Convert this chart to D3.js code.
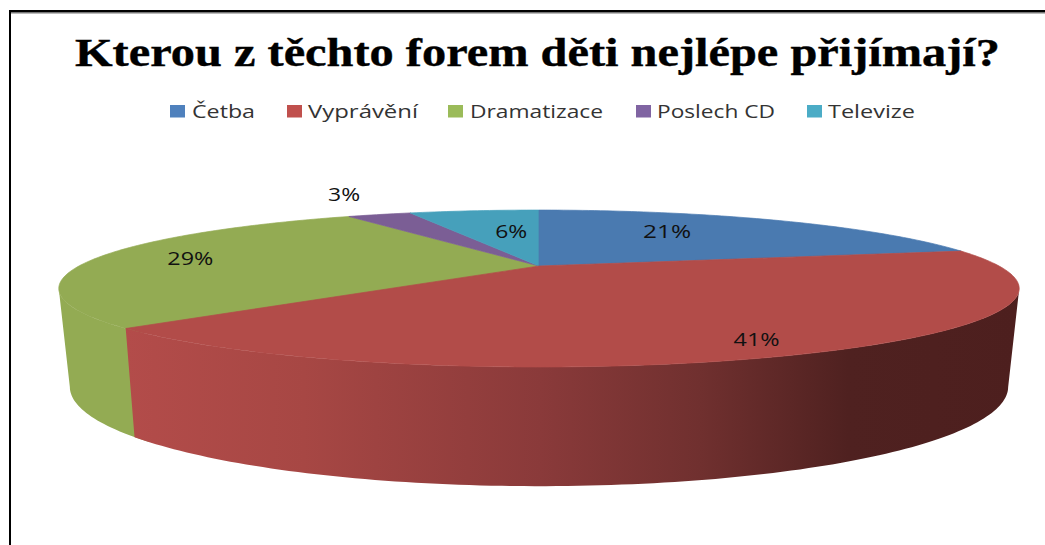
<!DOCTYPE html>
<html><head><meta charset="utf-8">
<script src="https://cdn.jsdelivr.net/npm/d3@7/dist/d3.min.js"></script>
<style>html,body{margin:0;padding:0;background:#fff;overflow:hidden}svg{display:block}</style>
</head><body><svg id="c" width="1045" height="545"></svg>
<script>
const titleText = "Kterou z těchto forem děti nejlépe přijímají?";
const categories = ["Četba","Vyprávění","Dramatizace","Poslech CD","Televize"];
const shares = [21,41,29,3,6];
const topColors = ["#4a7ab0","#b24c49","#93ab53","#7b5e95","#46a0bb"];
const legendColors = ["#4F81BD","#C0504D","#9BBB59","#8064A2","#4BACC6"];
// Legend layout (swatch x, text x, text width)
const legendSwatchX = [170,287,448,636,807];
const legendTextX = [192,308,470,657,828];
const legendTextW = [63,110,133,118,87];
// Label placement on the disc: radius fraction and angular shift from slice middle
const labelRadius = [.651,.867,.789,1.52,.569];
const labelShift = [-8,5.6,2.5,4,3.7];
const labelW = [48,46,46,32,32];
// Small rendering adjustment of slice edges, since shares are rounded (degrees)
const edgeStart = [0,1.7,0,1.4,0.8];
const edgeEnd = [1.7,2.8,1.4,0.8,0];

const svg = d3.select("#c");
const rad = d => d*Math.PI/180;
// Perspective projection of the disc: top surface and bottom surface
const topDisc = {x:d3.scaleLinear().domain([-1,1]).range([539-460,539+460]),
                 y:d3.scaleLinear().domain([-1,1]).range([266-72,266+72]), k:.287};
const botDisc = {x:d3.scaleLinear().domain([-1,1]).range([539-449,539+449]),
                 y:d3.scaleLinear().domain([-1,1]).range([358-91,358+91]), k:.29};
function proj(d,a,r=1){const X=r*Math.sin(a),Z=-r*Math.cos(a),s=1/(1-d.k*Z);return [d.x(X*s),d.y(Z*s)];}
function arcPts(d,a0,a1,r=1){const n=Math.max(2,Math.ceil(Math.abs(a1-a0)/rad(1)));
  return d3.range(n+1).map(i=>proj(d,a0+(a1-a0)*i/n,r));}
const line=d3.line();

const arcs=d3.pie().sort(null).value(d=>d)(shares)
  .map((s,i)=>({i,a0:s.startAngle+rad(edgeStart[i]),a1:s.endAngle+rad(edgeEnd[i]),mid:(s.startAngle+s.endAngle)/2}));

const grad=svg.append("defs").append("linearGradient").attr("id","redWall")
  .attr("gradientUnits","userSpaceOnUse").attr("x1",125).attr("x2",1018).attr("y1",0).attr("y2",0);
[[0,"#b34c4a"],[.2,"#a74744"],[.465,"#8a3a3a"],[.644,"#70302f"],[.81,"#4f2120"],[1,"#4d1f1e"]]
  .forEach(([o,c])=>grad.append("stop").attr("offset",o).attr("stop-color",c));

// frame
svg.append("rect").attr("x",9).attr("y",10).attr("width",2).attr("height",535).attr("fill","#000");
svg.append("rect").attr("x",9).attr("y",10).attr("width",1036).attr("height",2).attr("fill","#000");
svg.append("rect").attr("x",11).attr("y",12).attr("width",1034).attr("height",1.5).attr("fill","#777");

// title
svg.append("text").text(titleText).attr("x",75).attr("y",66)
  .attr("font-family","'Liberation Serif',serif").attr("font-weight","bold").attr("font-size",41)
  .attr("textLength",925).attr("lengthAdjust","spacingAndGlyphs").attr("fill","#000")
  .attr("stroke","#000").attr("stroke-width",.4);

// legend
categories.forEach((c,i)=>{
  svg.append("rect").attr("x",legendSwatchX[i]).attr("y",105).attr("width",15).attr("height",12.5).attr("fill",legendColors[i]);
  svg.append("text").text(c).attr("x",legendTextX[i]).attr("y",118)
    .attr("font-family","'Open Sans',sans-serif").attr("font-size",19)
    .attr("textLength",legendTextW[i]).attr("lengthAdjust","spacingAndGlyphs").attr("fill","#333");
});

const lo=rad(107), hi=rad(253);
const drawWall=(s,fill)=>{const a=Math.max(s.a0,lo),b=Math.min(s.a1,hi); if(b<=a) return;
  svg.append("path").attr("d",line(arcPts(topDisc,a,b).concat(arcPts(botDisc,b,a)))+"Z").attr("fill",fill);};
const drawTop=s=>svg.append("path").attr("d",line([proj(topDisc,0,0)].concat(arcPts(topDisc,s.a0,s.a1)))+"Z")
  .attr("fill",topColors[s.i]).attr("stroke",topColors[s.i]).attr("stroke-width",.7).attr("stroke-linejoin","round");

// green first, then the small back slices, then the front red slice
drawWall(arcs[2],topColors[2]);
[2,3,4,0].forEach(i=>drawTop(arcs[i]));
drawWall(arcs[1],"url(#redWall)");
drawTop(arcs[1]);

// data labels
arcs.forEach(s=>{
  const [x,y]=proj(topDisc,s.mid+rad(labelShift[s.i]),labelRadius[s.i]);
  svg.append("text").text(shares[s.i]+"%").attr("x",x).attr("y",y+7).attr("text-anchor","middle")
    .attr("font-family","'Open Sans',sans-serif").attr("font-size",19)
    .attr("textLength",labelW[s.i]).attr("lengthAdjust","spacingAndGlyphs").attr("fill","#111");
});
</script></body></html>
